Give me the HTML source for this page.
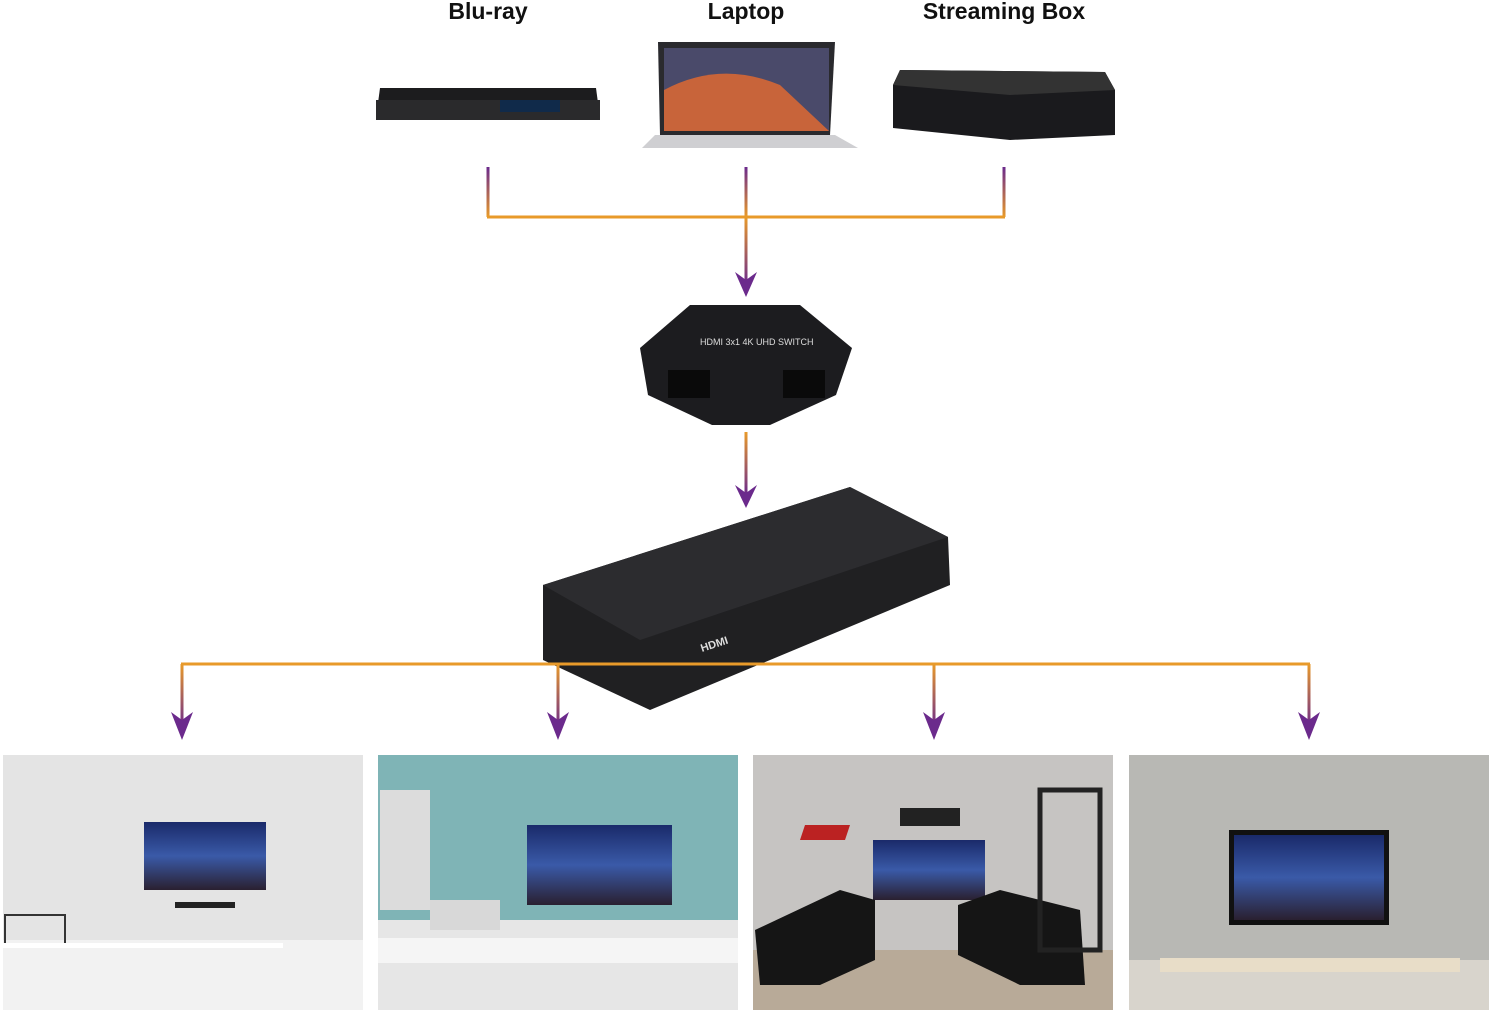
<!DOCTYPE html>
<html><head><meta charset="utf-8"><style>
body{margin:0;width:1492px;height:1014px;background:#fff;position:relative;overflow:hidden;font-family:"Liberation Sans",sans-serif}
.lbl{position:absolute;top:-2px;font-weight:bold;font-size:23px;color:#111;transform:translateX(-50%);white-space:nowrap}
.a{position:absolute}
</style></head><body>
<div class="lbl" style="left:488px">Blu-ray</div>
<div class="lbl" style="left:746px">Laptop</div>
<div class="lbl" style="left:1004px">Streaming Box</div>

<svg class="a" style="left:0;top:0" width="1492" height="1014">
<defs>
<linearGradient id="g1" x1="0" y1="0" x2="0" y2="1"><stop offset="0" stop-color="#6b2a8c"/><stop offset="1" stop-color="#e89a2a"/></linearGradient>
<linearGradient id="g2" x1="0" y1="0" x2="0" y2="1"><stop offset="0" stop-color="#e89a2a"/><stop offset="1" stop-color="#6b2a8c"/></linearGradient>
<linearGradient id="scr" x1="0" y1="0" x2="0" y2="1"><stop offset="0" stop-color="#1a2a6a"/><stop offset="0.5" stop-color="#3a5aa8"/><stop offset="1" stop-color="#2a2030"/></linearGradient>
</defs>
<!-- blu-ray -->
<path d="M380 88 L596 88 L600 118 L376 118 Z" fill="#1c1c1e"/>
<rect x="376" y="100" width="224" height="20" fill="#2a2a2c"/>
<rect x="500" y="100" width="60" height="12" fill="#102a4a"/>
<!-- laptop -->
<path d="M658 42 L835 42 L830 135 L660 135 Z" fill="#2a2a2e"/>
<rect x="664" y="48" width="165" height="83" fill="#4a4a6a"/>
<path d="M664 90 Q720 60 780 85 L829 131 L664 131 Z" fill="#c8643a"/>
<path d="M655 135 L835 135 L858 148 L642 148 Z" fill="#cfcfd2"/>
<!-- streaming box -->
<path d="M900 70 L1105 72 L1115 90 L1115 135 L1010 140 L893 128 L893 85 Z" fill="#1a1a1d"/>
<path d="M900 70 L1105 72 L1115 90 L1010 95 L893 85 Z" fill="#333"/>
<!-- top connectors -->
<rect x="486.5" y="167" width="3" height="50" fill="url(#g1)"/>
<rect x="1002.5" y="167" width="3" height="50" fill="url(#g1)"/>
<rect x="744.5" y="167" width="3" height="50" fill="url(#g1)"/>
<line x1="487" y1="217" x2="1005" y2="217" stroke="#e89a2a" stroke-width="3"/>
<rect x="744.5" y="217" width="3" height="68" fill="url(#g2)"/>
<path d="M735 272 L746 280 L757 272 L746 297 Z" fill="#6b2a8c"/>
<!-- hex switch -->
<path d="M690 305 L800 305 L852 348 L836 395 L770 425 L712 425 L648 395 L640 348 Z" fill="#1c1c1f"/>
<rect x="668" y="370" width="42" height="28" fill="#0a0a0a"/><rect x="783" y="370" width="42" height="28" fill="#0a0a0a"/>
<text x="700" y="345" fill="#ddd" font-size="9" font-family="Liberation Sans">HDMI 3x1 4K UHD SWITCH</text>
<rect x="744.5" y="432" width="3" height="63" fill="url(#g2)"/>
<path d="M735 485 L746 493 L757 485 L746 508 Z" fill="#6b2a8c"/>
<!-- splitter -->
<path d="M543 585 L850 487 L948 537 L950 585 L650 710 L543 660 Z" fill="#202022"/>
<path d="M543 585 L850 487 L948 537 L640 640 Z" fill="#2c2c2f"/>
<text x="702" y="652" fill="#ddd" font-size="11" font-weight="bold" transform="rotate(-18 702 652)">HDMI</text>
<!-- bottom connectors -->
<line x1="181" y1="664" x2="1310" y2="664" stroke="#e89a2a" stroke-width="3"/>
<g fill="url(#g2)">
<rect x="180.5" y="664" width="3" height="64"/><rect x="556.5" y="664" width="3" height="64"/>
<rect x="932.5" y="664" width="3" height="64"/><rect x="1307.5" y="664" width="3" height="64"/>
</g>
<g fill="#6b2a8c">
<path d="M171 712 L182 720 L193 712 L182 740 Z"/><path d="M547 712 L558 720 L569 712 L558 740 Z"/>
<path d="M923 712 L934 720 L945 712 L934 740 Z"/><path d="M1298 712 L1309 720 L1320 712 L1309 740 Z"/>
</g>
<!-- panel 1 -->
<rect x="3" y="755" width="360" height="255" fill="#e4e4e4"/>
<rect x="3" y="940" width="360" height="70" fill="#f2f2f2"/>
<rect x="144" y="822" width="122" height="68" fill="url(#scr)"/>
<rect x="175" y="902" width="60" height="6" fill="#222"/>
<rect x="5" y="915" width="60" height="30" fill="none" stroke="#333" stroke-width="2"/>
<rect x="3" y="943" width="280" height="5" fill="#fff"/>
<!-- panel 2 -->
<rect x="378" y="755" width="360" height="255" fill="#7fb4b6"/>
<rect x="378" y="920" width="360" height="90" fill="#e6e6e6"/>
<rect x="380" y="790" width="50" height="120" fill="#dcdcdc"/>
<rect x="430" y="900" width="70" height="30" fill="#d8d8d8"/>
<rect x="527" y="825" width="145" height="80" fill="url(#scr)"/>
<rect x="378" y="938" width="360" height="25" fill="#f5f5f5"/>
<!-- panel 3 -->
<rect x="753" y="755" width="360" height="255" fill="#c6c4c2"/>
<rect x="753" y="950" width="360" height="60" fill="#b8aa98"/>
<rect x="873" y="840" width="112" height="60" fill="url(#scr)"/>
<rect x="900" y="808" width="60" height="18" fill="#222"/>
<path d="M800 840 L845 840 L850 825 L805 825 Z" fill="#b22"/>
<path d="M755 930 L840 890 L875 900 L875 960 L820 985 L760 985 Z" fill="#151515"/>
<path d="M1000 890 L1080 910 L1085 985 L1020 985 L958 955 L958 905 Z" fill="#151515"/>
<rect x="1040" y="790" width="60" height="160" fill="none" stroke="#222" stroke-width="5"/>
<!-- panel 4 -->
<rect x="1129" y="755" width="360" height="255" fill="#b8b8b4"/>
<rect x="1129" y="960" width="360" height="50" fill="#d8d4cc"/>
<rect x="1229" y="830" width="160" height="95" fill="#111"/>
<rect x="1234" y="835" width="150" height="85" fill="url(#scr)"/>
<rect x="1160" y="958" width="300" height="14" fill="#e8ddc8"/>
</svg>
</body></html>
